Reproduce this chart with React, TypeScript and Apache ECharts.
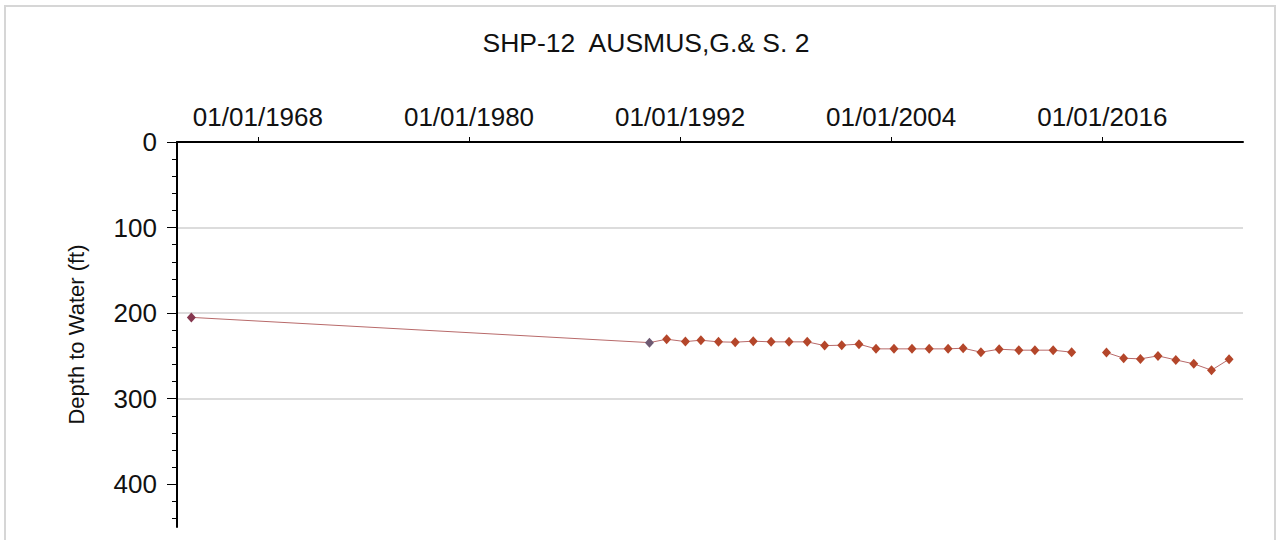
import React, { useEffect, useRef } from "react";
import * as echarts from "echarts";

const TITLE = "SHP-12  AUSMUS,G.& S. 2";
const Y_NAME = "Depth to Water (ft)";

const dates: string[] = [
  "1964-03-20", "1990-04-05", "1991-03-28", "1992-04-20", "1993-03-08", "1994-03-08",
  "1995-02-18", "1996-02-28", "1997-03-05", "1998-03-12", "1999-03-25", "2000-03-20",
  "2001-03-10", "2002-03-03", "2003-02-20", "2004-02-28", "2005-03-08", "2006-02-28",
  "2007-03-28", "2008-02-03", "2009-02-06", "2010-02-20", "2011-04-05", "2012-03-03",
  "2013-03-17", "2014-04-05", "2015-03-15", "2016-03-28", "2017-03-20", "2018-03-03",
  "2019-03-03", "2020-03-07", "2021-03-15", "2022-03-18", "2023-03-18",
];

const depths: (number | null)[] = [
  205, 234.5, 230.5, 233.3, 231.7, 233.6,
  234.0, 232.8, 233.6, 233.6, 233.6, 238.0,
  237.5, 236.3, 241.8, 241.8, 241.8, 241.8,
  241.8, 241.0, 245.7, 242.2, 243.3, 243.3,
  243.3, 245.7, null, 246.1, 252.7, 253.5,
  250.0, 254.7, 259.3, 266.7, 253.9,
];

const xTickYears: number[] = [1968, 1980, 1992, 2004, 2016];
const yTicks: number[] = [0, 100, 200, 300, 400];

const FONT = "'Liberation Sans', Arial, sans-serif";

export default function App() {
  const ref = useRef<HTMLDivElement>(null);

  useEffect(() => {
    if (!ref.current) return;
    const chart = echarts.init(ref.current, undefined, { renderer: "svg" });

    const xTicks = xTickYears.map((y) => Date.UTC(y, 0, 1));
    const specialColors: Record<number, string> = { 0: "#86374f", 1: "#6e5a72" };

    const data = dates.map((d, i) => {
      const t = Date.parse(d);
      const v = depths[i];
      const item: any = { value: [t, v === null ? "-" : v] };
      if (specialColors[i]) item.itemStyle = { color: specialColors[i] };
      return item;
    });

    chart.setOption({
      animation: false,
      backgroundColor: "#ffffff",
      textStyle: { fontFamily: FONT },
      graphic: [
        {
          type: "rect",
          shape: { x: 5, y: 6, width: 1270, height: 540 },
          style: { fill: "none", stroke: "#d6d6d6", lineWidth: 2 },
          silent: true,
        },
        {
          type: "text",
          x: 646,
          y: 43,
          style: {
            text: TITLE,
            font: `26.5px ${FONT}`,
            fill: "#111",
            align: "center",
            verticalAlign: "middle",
          },
        },
      ],
      grid: { left: 177, right: 37, top: 142, bottom: 13 },
      xAxis: {
        type: "value",
        position: "top",
        min: Date.UTC(1963, 4, 27),
        max: Date.UTC(2024, 0, 1),
        axisLine: { show: true, onZero: false, lineStyle: { color: "#000", width: 2 } },
        axisTick: { show: true, customValues: xTicks, length: 5, lineStyle: { color: "#000", width: 1 } },
        axisLabel: {
          customValues: xTicks,
          margin: 12,
          fontSize: 26,
          color: "#111",
          fontFamily: FONT,
          hideOverlap: false,
          formatter: (v: number) => "01/01/" + new Date(v).getUTCFullYear(),
        },
        splitLine: { show: false },
      },
      yAxis: {
        type: "value",
        inverse: true,
        min: 0,
        max: 450,
        interval: 100,
        name: Y_NAME,
        nameLocation: "middle",
        nameRotate: 90,
        nameGap: 90,
        nameTextStyle: { fontSize: 22, color: "#111", fontFamily: FONT },
        axisLine: { show: true, onZero: false, lineStyle: { color: "#000", width: 2 } },
        axisTick: { show: true, customValues: yTicks, length: 10, lineStyle: { color: "#000", width: 1 } },
        minorTick: { show: true, splitNumber: 5, length: 5, lineStyle: { color: "#000", width: 1 } },
        axisLabel: {
          customValues: yTicks,
          margin: 20,
          fontSize: 26,
          color: "#111",
          fontFamily: FONT,
        },
        splitLine: {
          show: true,
          showMinLine: false,
          showMaxLine: false,
          lineStyle: { color: "#dcdcdc", width: 2 },
        },
      },
      series: [
        {
          type: "line",
          data,
          connectNulls: false,
          symbol: "diamond",
          symbolSize: [9, 10],
          itemStyle: { color: "#b4462a" },
          lineStyle: { color: "#b86a6a", width: 1 },
        },
      ],
    });

    return () => chart.dispose();
  }, []);

  return (
    <div
      ref={ref}
      style={{ position: "absolute", left: 0, top: 0, width: 1280, height: 540 }}
    />
  );
}
